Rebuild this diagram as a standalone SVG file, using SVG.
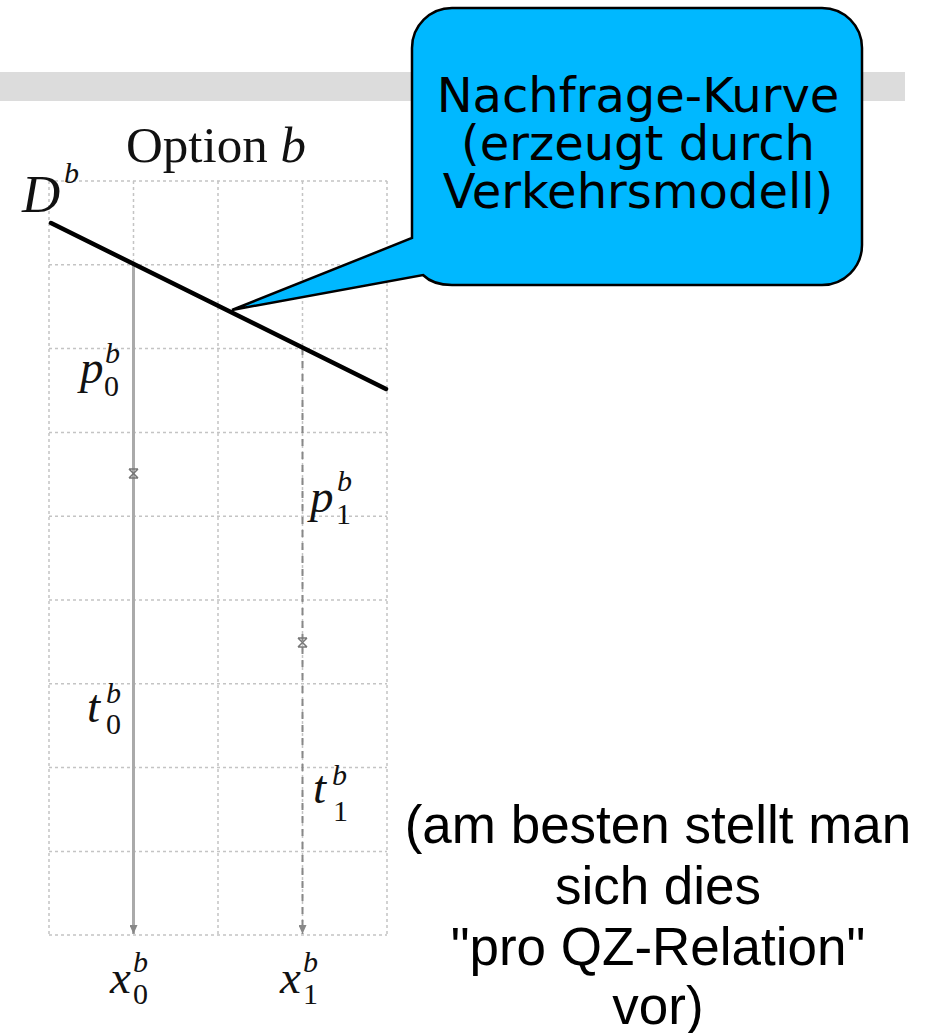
<svg xmlns="http://www.w3.org/2000/svg" width="933" height="1033" viewBox="0 0 933 1033">
<style>
.grid{stroke:#c4c4c4;stroke-width:1.5;stroke-dasharray:3 3;fill:none}
.m{font-family:"Liberation Serif","DejaVu Serif",serif;font-style:italic;fill:#111}
.r{font-family:"Liberation Serif","DejaVu Serif",serif;font-style:normal}
.big{font-size:47px}
.sm{font-size:30px}
.call{font-family:"DejaVu Sans",Verdana,sans-serif;font-size:48px;fill:#000;text-anchor:middle}
.note{font-family:"Liberation Sans",Arial,sans-serif;font-size:53px;fill:#000;text-anchor:middle}
.mk{stroke:#777;stroke-width:1.5;fill:none}
</style>
<defs>
<marker id="ah" markerWidth="10" markerHeight="8" refX="9" refY="4" orient="auto" markerUnits="userSpaceOnUse">
<path d="M0,0 L9,4 L0,8 Z" fill="#888"/>
</marker>
</defs>
<rect x="0" y="0" width="933" height="1033" fill="#fff"/>
<rect x="0" y="72" width="905" height="29" fill="#dcdcdc"/>
<g id="grid">
<path class="grid" d="M49 181H387M49 264.8H387M49 348.6H387M49 432.4H387M49 516.2H387M49 600H387M49 683.8H387M49 767.6H387M49 851.4H387M49 935H387"/>
<path class="grid" d="M49 181V935M133.5 181V935M218 181V935M302.5 181V935M387 181V935"/>
</g>
<g id="title">
<text x="126" y="162" font-size="51" class="r" fill="#111">Option <tspan font-style="italic">b</tspan></text>
</g>
<g id="connectors">
<line x1="133.5" y1="264" x2="133.5" y2="934" stroke="#aaa" stroke-width="3" marker-end="url(#ah)"/>
<line x1="302.5" y1="348" x2="302.5" y2="934" stroke="#888" stroke-width="2" stroke-dasharray="7 6" marker-end="url(#ah)"/>
<path class="mk" d="M129 469H138M129 478H138M129 469L138 478M138 469L129 478"/>
<path class="mk" d="M298 638H307M298 647H307M298 638L307 647M307 638L298 647"/>
<line id="demand" x1="51" y1="223" x2="386" y2="389" stroke="#000" stroke-width="4.5" stroke-linecap="round"/>
</g>
<g id="labels">
<text class="m" x="22" y="212" font-size="53">D</text>
<text class="m sm" x="64" y="183">b</text>
<text class="m big" x="80" y="383">p</text>
<text class="m sm" x="105" y="363">b</text>
<text class="m sm r" x="104" y="396">0</text>
<text class="m big" x="310" y="512">p</text>
<text class="m sm" x="337" y="491">b</text>
<text class="m sm r" x="336" y="524">1</text>
<text class="m big" x="87" y="722">t</text>
<text class="m sm" x="106" y="703">b</text>
<text class="m sm r" x="106" y="734">0</text>
<text class="m big" x="313" y="803">t</text>
<text class="m sm" x="332" y="785">b</text>
<text class="m sm r" x="333" y="821">1</text>
<text class="m big" x="110" y="993">x</text>
<text class="m sm" x="133" y="972">b</text>
<text class="m sm r" x="133" y="1004">0</text>
<text class="m big" x="280" y="993">x</text>
<text class="m sm" x="303" y="972">b</text>
<text class="m sm r" x="303" y="1004">1</text>
</g>
<g id="callout">
<path d="M452 8H822A40 40 0 0 1 862 48V245A40 40 0 0 1 822 285H452Q433 285 423 275L232 310L412 238V48A40 40 0 0 1 452 8Z" fill="#00b8ff" stroke="#000" stroke-width="2.5" stroke-linejoin="miter"/>
<text class="call" x="638" y="112">Nachfrage-Kurve</text>
<text class="call" x="638" y="160">(erzeugt durch</text>
<text class="call" x="638" y="208">Verkehrsmodell)</text>
</g>
<g id="note">
<text class="note" x="658" y="843">(am besten stellt man</text>
<text class="note" x="658" y="904">sich dies</text>
<text class="note" x="658" y="965">"pro QZ-Relation"</text>
<text class="note" x="658" y="1024">vor)</text>
</g>
</svg>
